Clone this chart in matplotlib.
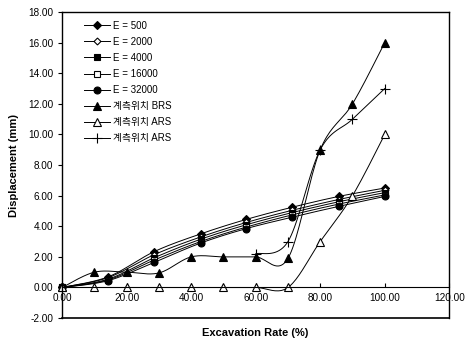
import numpy as np
import matplotlib
matplotlib.use("Agg")
import matplotlib.pyplot as plt

plt.rcParams['font.family'] = ['Liberation Sans', 'Noto Sans CJK KR', 'DejaVu Sans']

# excavation steps for the numerical (E) cases
x_e = [0, 14.3, 28.6, 42.9, 57.1, 71.4, 85.7, 100]
e_500 = [0, 0.70, 2.35, 3.50, 4.45, 5.25, 5.95, 6.50]
e_2000 = [0, 0.65, 2.15, 3.30, 4.25, 5.05, 5.75, 6.35]
e_4000 = [0, 0.55, 1.95, 3.15, 4.10, 4.90, 5.60, 6.20]
e_16000 = [0, 0.50, 1.80, 3.00, 3.95, 4.75, 5.45, 6.05]
e_32000 = [0, 0.45, 1.65, 2.90, 3.85, 4.60, 5.30, 5.95]

# measured values
x_meas = [0, 10, 20, 30, 40, 50, 60, 70, 80, 90, 100]
brs = [0, 1.0, 1.0, 0.95, 2.0, 2.0, 2.0, 1.9, 9.0, 12.0, 16.0]
ars = [0, 0, 0, 0, 0, 0, 0, 0, 3.0, 6.0, 10.0]
x_ars2 = [60, 70, 80, 90, 100]
ars2 = [2.2, 3.0, 9.0, 11.0, 13.0]


def smooth(xs, ys, n=20):
    # catmull-rom, close to excel "smoothed line"
    pts = np.column_stack([xs, ys]).astype(float)
    p = np.vstack([pts[0], pts, pts[-1]])
    out = []
    idx = []
    for i in range(1, len(p) - 2):
        p0, p1, p2, p3 = p[i - 1], p[i], p[i + 1], p[i + 2]
        t = np.linspace(0, 1, n, endpoint=False)[:, None]
        seg = 0.5 * ((2 * p1) + (-p0 + p2) * t + (2 * p0 - 5 * p1 + 4 * p2 - p3) * t ** 2
                     + (-p0 + 3 * p1 - 3 * p2 + p3) * t ** 3)
        idx.append(len(out))
        out.extend(seg.tolist())
    idx.append(len(out))
    out.append(pts[-1].tolist())
    out = np.array(out)
    return out[:, 0], out[:, 1], idx


fig = plt.figure(figsize=(4.67, 3.45), dpi=100)
ax = fig.add_axes([0.133, 0.078, 0.829, 0.887])

series = [
    (x_e, e_500, 'E = 500', dict(marker='D', mfc='black', ms=4.5)),
    (x_e, e_2000, 'E = 2000', dict(marker='D', mfc='white', ms=3.5)),
    (x_e, e_4000, 'E = 4000', dict(marker='s', mfc='black', ms=5)),
    (x_e, e_16000, 'E = 16000', dict(marker='s', mfc='white', ms=5)),
    (x_e, e_32000, 'E = 32000', dict(marker='o', mfc='black', ms=5)),
    (x_meas, brs, '계측위치 BRS', dict(marker='^', mfc='black', ms=6)),
    (x_meas, ars, '계측위치 ARS', dict(marker='^', mfc='white', ms=6)),
    (x_ars2, ars2, '계측위치 ARS', dict(marker='+', mfc='black', ms=7)),
]

for xs, ys, lab, st in series:
    sx, sy, idx = smooth(xs, ys)
    ax.plot(sx, sy, color='black', lw=0.7, markevery=idx, mec='black',
            mew=0.8, label=lab, clip_on=False, **st)

ax.set_xlim(0, 120)
ax.set_ylim(-2, 18)
ax.set_xticks(np.arange(0, 121, 20))
ax.set_yticks(np.arange(-2, 18.1, 2))
ax.xaxis.set_major_formatter(matplotlib.ticker.FormatStrFormatter('%.2f'))
ax.yaxis.set_major_formatter(matplotlib.ticker.FormatStrFormatter('%.2f'))

# x axis crosses at y = 0, box around plot area
ax.spines['bottom'].set_position(('data', 0))
ax.spines['bottom'].set_linewidth(0.8)
ax.axhline(-2, color='black', lw=1.2, clip_on=False)
for s in ['top', 'right', 'left']:
    ax.spines[s].set_linewidth(1.0)
ax.tick_params(axis='x', direction='in', length=3, labelsize=7.2, pad=4)
ax.tick_params(axis='y', direction='out', length=3, labelsize=7.2)

ax.set_xlabel('Excavation Rate (%)', fontsize=8, fontweight='bold', labelpad=18)
ax.set_ylabel('Displacement (mm)', fontsize=8, fontweight='bold', labelpad=6)

ax.legend(loc='upper left', bbox_to_anchor=(0.035, 1.0), frameon=False,
          fontsize=7, handlelength=2.6, labelspacing=0.62, handletextpad=0.3)

fig.savefig('out.png', dpi=100)
